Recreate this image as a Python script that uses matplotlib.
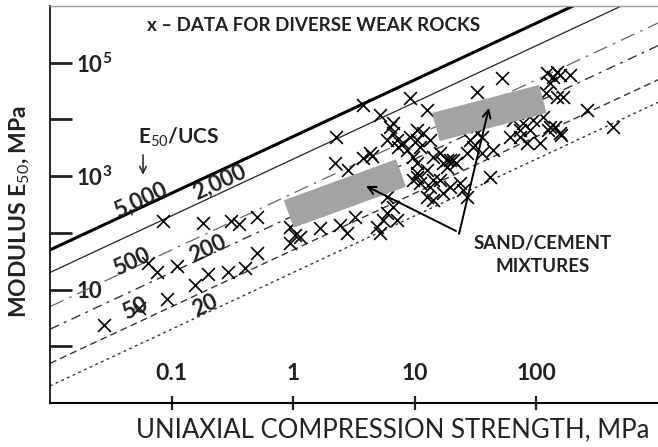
import matplotlib
matplotlib.use("Agg")
import matplotlib.pyplot as plt
from matplotlib.ticker import FixedLocator, NullLocator

plt.rcParams["font.family"] = ["Lato", "DejaVu Sans"]
plt.rcParams["mathtext.fontset"] = "custom"
plt.rcParams["mathtext.rm"] = "Lato"
plt.rcParams["mathtext.bf"] = "Lato:bold"

# ── weak rock data: UCS (MPa) vs secant modulus E50 (MPa) ────────────────────
ucs = [
    0.028, 0.054, 0.064, 0.076, 0.085, 0.092, 0.11, 0.156, 0.18, 0.20,
    0.29, 0.31, 0.36, 0.40, 0.50, 0.50, 0.94, 1.03, 0.94, 1.14,
    1.66, 2.43, 2.77, 3.22, 4.9, 5.5, 5.9, 6.6, 5.2, 7.1,
    2.25, 2.2, 2.8, 3.75, 4.45, 5.9, 6.6, 7.3, 6.25, 3.75,
    5.2, 4.3, 9.1, 12.6, 6.6, 7.1, 8.0, 9.1, 10.4, 11.7,
    13.3, 11.0, 8.6, 9.7, 16.1, 19.5, 22, 18.4, 28.4, 32.5,
    30, 36, 44, 10.4, 11, 13.3, 16.1, 19.5, 12.6, 17,
    26.9, 41.5, 52, 32.5, 69, 78, 89, 94, 113, 78,
    89, 122, 137, 156, 189, 129, 166, 148, 129, 156,
    107, 84, 261, 427, 10.4, 14.1, 17, 10.4, 12.6, 10.4,
    14.1, 36, 26.9, 24.9, 14.1, 61, 73, 64, 120, 148,
    142, 125, 6.25, 5.9, 9.7, 23.5, 18.4, 20.6, 73, 160,
]
e50 = [
    2.4, 4.7, 29, 20, 162, 6.8, 26, 12, 150, 19,
    20, 162, 144, 24, 44, 190, 127, 92, 66, 85,
    122, 138, 100, 190, 127, 169, 224, 286, 100, 169,
    4910, 1710, 1290, 2090, 2270, 4350, 5780, 3270, 7380, 18000,
    12000, 2570, 23900, 14700, 8670, 4350, 3850, 4910, 4350, 5780,
    4350, 3270, 2900, 2180, 2570, 1930, 1710, 1450, 4350, 5780,
    3270, 2570, 2900, 1140, 760, 645, 860, 645, 430, 506,
    430, 968, 54000, 30500, 13000, 14700, 16600, 9800, 11100, 8670,
    6530, 66000, 56000, 61000, 61000, 44000, 25000, 25000, 7380, 5780,
    3850, 3850, 14700, 7380, 6530, 2180, 1710, 1710, 1290, 968,
    860, 4910, 2570, 571, 380, 4910, 6530, 9800, 29300, 69000,
    7380, 6530, 1140, 430, 860, 760, 1930, 1930, 4910, 5330,
]

# sand/cement mixtures: two bands, given by their end points
mix_ucs = [(0.92, 7.7), (14.9, 113)]
mix_e50 = [(215, 1135), (7350, 22900)]

# constant E50/UCS ratio lines
ratios = [5000, 2000, 500, 200, 50, 20]
ratio_labels = ["5,000", "2,000", "500", "200", "50", "20"]
ucs_span = [0.01, 1000]

x_ticks = [0.1, 1, 10, 100]
x_ticklabels = ["0.1", "1", "10", "100"]
y_ticks = [1, 10, 100, 1e3, 1e4, 1e5]
y_ticklabels = ["", "10", "", r"$\mathregular{10^3}$", "", r"$\mathregular{10^5}$"]

# ── figure ───────────────────────────────────────────────────────────────────
fig = plt.figure(figsize=(6.58, 4.47), dpi=100)
ax = fig.add_axes([50 / 658, 44 / 447, 608 / 658, 397 / 447])
ax.set_xscale("log")
ax.set_yscale("log")
ax.set_xlim(0.01, 1000)
ax.set_ylim(0.1, 1e6)

line_styles = {
    5000: dict(color="black", lw=2.2, ls="-"),
    2000: dict(color="#222222", lw=0.9, ls="-"),
    500:  dict(color="#666666", lw=0.9, ls=(0, (12, 5, 2, 5))),
    200:  dict(color="#333333", lw=1.0, ls=(0, (7, 4, 2, 4))),
    50:   dict(color="#333333", lw=1.0, ls=(0, (5, 3))),
    20:   dict(color="#333333", lw=1.0, ls=(0, (2, 2.5))),
}
for r in ratios:
    ax.plot(ucs_span, [r * u for u in ucs_span], zorder=2, **line_styles[r])

ax.scatter(ucs, e50, marker="x", s=85, color="black", linewidths=1.2, zorder=3)

for xs, ys in zip(mix_ucs, mix_e50):
    ax.plot(xs, ys, color="#a3a3a3", lw=21, solid_capstyle="butt", zorder=4)

# ratio labels along the lines
label_pos = {
    5000: (0.055, 380), 2000: (0.25, 791), 500: (0.047, 30.7),
    200: (0.199, 52), 50: (0.050, 4.55), 20: (0.188, 5.14),
}
for r, lab in zip(ratios, ratio_labels):
    ax.text(*label_pos[r], lab, rotation=25, rotation_mode="anchor",
            ha="center", va="center", fontsize=16, fontweight="bold",
            color="#222222", zorder=5)

ax.text(0.212, 0.670, r"E$_{50}$/UCS", transform=ax.transAxes,
        ha="center", va="center", fontsize=15, fontweight="bold", color="#222222")
ax.annotate("", xy=(0.153, 0.568), xytext=(0.153, 0.632),
            xycoords="axes fraction", textcoords="axes fraction",
            arrowprops=dict(arrowstyle="->", color="#222222", lw=1.1,
                            mutation_scale=12))

ax.text(0.433, 0.950, "x – DATA FOR DIVERSE WEAK ROCKS", transform=ax.transAxes,
        ha="center", va="center", fontsize=13.5, fontweight="bold", color="#222222")

ax.text(0.811, 0.373, "SAND/CEMENT\nMIXTURES", transform=ax.transAxes,
        ha="center", va="center", fontsize=13.5, fontweight="bold",
        color="#222222", linespacing=1.45)

# arrows pointing at the two mixture bands
for tail, head in [((21.8, 108), (3.97, 671)), ((23.1, 96), (40.7, 15960))]:
    ax.annotate("", xy=head, xytext=tail,
                arrowprops=dict(arrowstyle="->", color="black", lw=1.4,
                                mutation_scale=14, shrinkA=0, shrinkB=0),
                zorder=6)

# ── axes styling ─────────────────────────────────────────────────────────────
ax.xaxis.set_major_locator(FixedLocator(x_ticks))
ax.xaxis.set_minor_locator(NullLocator())
ax.set_xticklabels(x_ticklabels)
ax.yaxis.set_major_locator(FixedLocator(y_ticks))
ax.yaxis.set_minor_locator(NullLocator())
ax.set_yticklabels(y_ticklabels)

ax.tick_params(axis="x", direction="inout", length=9.5, width=1.6,
               pad=-21, labelsize=16.5, colors="#222222")
ax.tick_params(axis="y", direction="in", length=16, width=2.0,
               pad=-19, labelsize=16, colors="#222222")
for lbl in ax.get_xticklabels():
    lbl.set_verticalalignment("baseline")
    lbl.set_fontweight("bold")
for lbl in ax.get_yticklabels():
    lbl.set_horizontalalignment("left")
    lbl.set_fontweight("bold")

ax.spines["right"].set_visible(False)
ax.spines["top"].set_color("#999999")
ax.spines["top"].set_linewidth(1.0)
ax.spines["left"].set_linewidth(1.2)
ax.spines["bottom"].set_linewidth(1.5)

fig.text(20 / 658, 1 - 212 / 447, r"MODULUS E$_{50}$, MPa", rotation=90,
         ha="center", va="center", fontsize=16.5, fontweight="bold", color="#222222")
fig.text(393 / 658, 1 - 430 / 447, "UNIAXIAL COMPRESSION STRENGTH, MPa",
         ha="center", va="center", fontsize=18.5, color="#222222")

fig.savefig("out.png", dpi=100)
